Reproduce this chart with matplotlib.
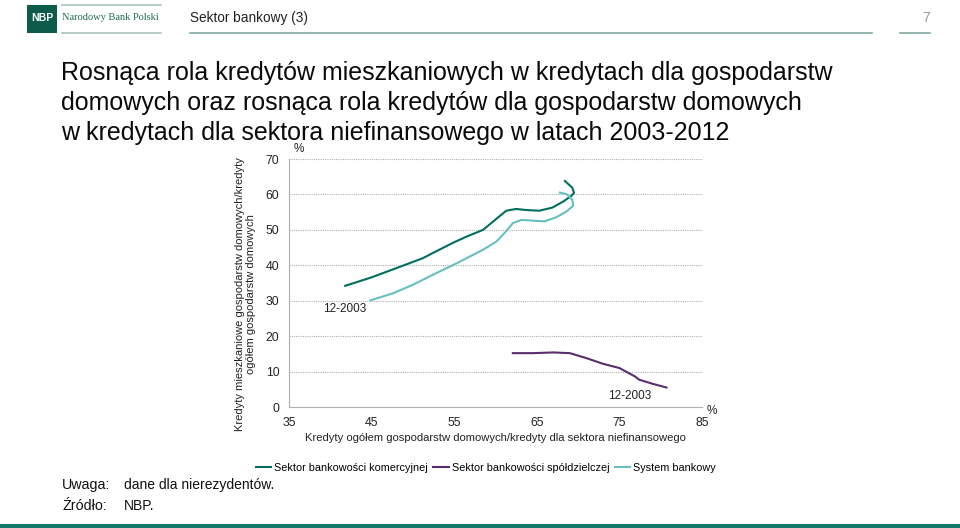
import matplotlib
matplotlib.use("Agg")
import matplotlib.pyplot as plt
from matplotlib.lines import Line2D
from matplotlib.patches import Rectangle

plt.rcParams['font.family'] = ['Liberation Sans', 'DejaVu Sans']

# Data: (x = household loans / non-financial sector loans %, y = housing loans / household loans %)
# ordered in time from 12-2003 to 2012
commercial_x = [41.8, 45.0, 48.0, 51.2, 53.2, 54.9, 56.5, 58.5, 60.1, 61.3, 62.5, 63.7, 65.3, 66.9, 68.2, 69.2, 69.5, 69.3, 68.4]
commercial_y = [34.2, 36.6, 39.2, 42.0, 44.4, 46.4, 48.1, 50.0, 53.1, 55.4, 55.9, 55.6, 55.4, 56.3, 58.0, 59.6, 60.5, 61.9, 63.8]

system_x = [44.85, 47.6, 50.0, 52.4, 54.9, 56.5, 58.5, 60.1, 61.1, 62.1, 63.1, 64.5, 65.95, 67.4, 68.6, 69.4, 69.3, 68.6, 67.8]
system_y = [30.1, 32.1, 34.5, 37.3, 40.1, 42.0, 44.4, 46.7, 49.1, 51.9, 52.8, 52.6, 52.4, 53.6, 55.2, 56.8, 58.5, 60.1, 60.5]

coop_x = [80.7, 79.1, 77.4, 76.9, 75.0, 73.0, 71.0, 69.0, 67.0, 64.5, 62.1]
coop_y = [5.5, 6.5, 7.7, 8.6, 11.0, 12.2, 13.8, 15.2, 15.4, 15.2, 15.2]

series_names = ["Sektor bankowości komercyjnej", "Sektor bankowości spółdzielczej", "System bankowy"]
series_colors = ["#00705c", "#5a2d6e", "#66c0c2"]

x_ticks = [35, 45, 55, 65, 75, 85]
y_ticks = [0, 10, 20, 30, 40, 50, 60, 70]

fig = plt.figure(figsize=(9.6, 5.28), dpi=100)
W, H = 960, 528

def fx(px):
    return px / W

def fy(py):
    return 1 - py / H

# ---------- header ----------
fig.patches.append(Rectangle((fx(27), fy(33)), fx(30), 28 / H, transform=fig.transFigure,
                             facecolor="#0d5b4b", edgecolor="none"))
fig.text(fx(42), fy(18), "NBP", color="white", fontsize=7.5, fontweight="bold", ha="center", va="center")
fig.text(fx(62), fy(18), "Narodowy Bank Polski", color="#1d6b55", fontsize=7.5,
         family=["Liberation Serif", "DejaVu Serif"], ha="left", va="center")
for y in (4.5, 32.5):
    fig.add_artist(Line2D([fx(62), fx(161)], [fy(y), fy(y)], transform=fig.transFigure,
                          color="#a9c4bd", lw=1.2))
fig.text(fx(190), fy(18), "Sektor bankowy (3)", color="#222222", fontsize=9.8, ha="left", va="center")
fig.add_artist(Line2D([fx(190), fx(872)], [fy(32.5), fy(32.5)], transform=fig.transFigure,
                      color="#7fa9a2", lw=1.2))
fig.text(fx(926), fy(18), "7", color="#999999", fontsize=10, ha="center", va="center")
fig.add_artist(Line2D([fx(900), fx(930)], [fy(32.5), fy(32.5)], transform=fig.transFigure,
                      color="#7fa9a2", lw=1.2))

# ---------- title ----------
title_lines = ["Rosnąca rola kredytów mieszkaniowych w kredytach dla gospodarstw",
               "domowych oraz rosnąca rola kredytów dla gospodarstw domowych",
               "w kredytach dla sektora niefinansowego w latach 2003-2012"]
for i, t in enumerate(title_lines):
    fig.text(fx(61), fy(73 + i * 30), t, color="#0a0a0a", fontsize=18, ha="left", va="center")

# ---------- chart ----------
ax = fig.add_axes([fx(289), fy(407), (702 - 289) / W, (407 - 159) / H])
ax.plot(commercial_x, commercial_y, color=series_colors[0], lw=1.5, label=series_names[0])
ax.plot(coop_x, coop_y, color=series_colors[1], lw=1.5, label=series_names[1])
ax.plot(system_x, system_y, color=series_colors[2], lw=1.5, label=series_names[2])

ax.set_xlim(35, 85)
ax.set_ylim(0, 70)
ax.set_xticks(x_ticks)
ax.set_yticks(y_ticks)
ax.tick_params(length=0, labelsize=8.8, colors="#222222")
ax.tick_params(axis="y", pad=7)
ax.tick_params(axis="x", pad=7)
for y in y_ticks[1:]:
    ax.axhline(y, color="#b0b0b0", lw=0.8, ls=(0, (1, 1)), zorder=0)
for s in ("top", "right"):
    ax.spines[s].set_visible(False)
for s in ("left", "bottom"):
    ax.spines[s].set_color("#b0b0b0")
    ax.spines[s].set_linewidth(0.8)

ax.set_xlabel("Kredyty ogółem gospodarstw domowych/kredyty dla sektora niefinansowego",
              fontsize=8.1, color="#222222", labelpad=3)
ax.set_ylabel("Kredyty mieszkaniowe gospodarstw domowych/kredyty\nogółem gospodarstw domowych",
              fontsize=8.0, color="#222222", linespacing=1.15)
ax.yaxis.set_label_coords(-(289 - 256) / (702 - 289), (407 - 294) / (407 - 159))

ax.text(35.6, 71, "%", fontsize=8.5, color="#222222", ha="left", va="bottom", clip_on=False)
ax.text(86.2, -1.2, "%", fontsize=8.5, color="#222222", ha="center", va="center", clip_on=False)

ax.text(41.8, 27.6, "12-2003", fontsize=8.5, color="#222222", ha="center", va="center")
ax.text(76.2, 3.1, "12-2003", fontsize=8.5, color="#222222", ha="center", va="center")

leg = fig.legend(handles=ax.get_lines(), labels=series_names, loc="center",
                 bbox_to_anchor=(fx(486), fy(468)), ncol=3, frameon=False, fontsize=7.8,
                 handlelength=1.4, handletextpad=0.3, columnspacing=0.5)

# ---------- notes ----------
fig.text(fx(62), fy(485), "Uwaga:", fontsize=10.3, color="#111111", ha="left", va="center")
fig.text(fx(124), fy(485), "dane dla nierezydentów.", fontsize=10, color="#111111", ha="left", va="center")
fig.text(fx(62), fy(506), "Źródło:", fontsize=10.3, color="#111111", ha="left", va="center")
fig.text(fx(124), fy(506), "NBP.", fontsize=10, color="#111111", ha="left", va="center")

# bottom bar
fig.patches.append(Rectangle((0, 0), 1, 4.5 / H, transform=fig.transFigure,
                             facecolor="#137a6b", edgecolor="none"))

fig.savefig("out.png", dpi=100)
